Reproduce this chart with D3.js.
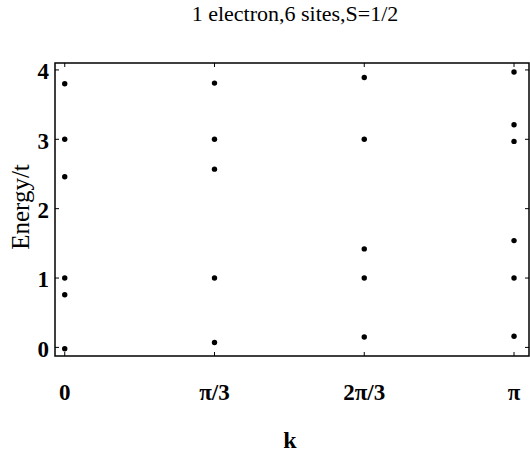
<!DOCTYPE html>
<html>
<head>
<meta charset="utf-8">
<script src="https://cdn.jsdelivr.net/npm/d3@7"></script>
<style>
  body { margin: 0; background: #fff; }
  svg { display: block; }
</style>
</head>
<body>
<div id="chart"></div>
<script>
const width = 530;
const height = 455;

// momentum points and their energy levels (in units of t)
const kValues = [0, 1, 2, 3];
const kLabels = ["0", "\u03c0/3", "2\u03c0/3", "\u03c0"];
const levelsK0 = [3.8, 3.0, 2.46, 1.0, 0.76, -0.02];
const levelsK1 = [3.81, 3.0, 2.57, 1.0, 0.07];
const levelsK2 = [3.89, 3.0, 1.42, 1.0, 0.15];
const levelsK3 = [3.97, 3.21, 2.97, 1.54, 1.0, 0.16];
const yTicks = [0, 1, 2, 3, 4];

const allLevels = [levelsK0, levelsK1, levelsK2, levelsK3];
const points = [];
allLevels.forEach((lv, i) => lv.forEach(e => points.push({ k: kValues[i], e: e })));

const margin = { top: 63, right: 1, bottom: 99, left: 55 };

const svg = d3.select("#chart")
  .append("svg")
  .attr("width", width)
  .attr("height", height);

const x = d3.scaleLinear()
  .domain([-0.065, 3.1])
  .range([margin.left, width - margin.right]);

const y = d3.scaleLinear()
  .domain([-0.124, 4.1])
  .range([height - margin.bottom, margin.top]);

const serif = "'Liberation Serif', 'Times New Roman', serif";

// frame
svg.append("rect")
  .attr("x", x.range()[0])
  .attr("y", y.range()[1])
  .attr("width", x.range()[1] - x.range()[0])
  .attr("height", y.range()[0] - y.range()[1])
  .attr("fill", "none")
  .attr("stroke", "#000")
  .attr("stroke-width", 1.5);

// inward ticks on all four sides
const tk = 4;
svg.append("g").selectAll("line")
  .data(kValues)
  .join("line")
  .attr("x1", d => x(d)).attr("x2", d => x(d))
  .attr("y1", y.range()[0]).attr("y2", y.range()[0] - tk)
  .attr("stroke", "#000");
svg.append("g").selectAll("line")
  .data(kValues)
  .join("line")
  .attr("x1", d => x(d)).attr("x2", d => x(d))
  .attr("y1", y.range()[1]).attr("y2", y.range()[1] + tk)
  .attr("stroke", "#000");
svg.append("g").selectAll("line")
  .data(yTicks)
  .join("line")
  .attr("x1", x.range()[0]).attr("x2", x.range()[0] + tk)
  .attr("y1", d => y(d)).attr("y2", d => y(d))
  .attr("stroke", "#000");
svg.append("g").selectAll("line")
  .data(yTicks)
  .join("line")
  .attr("x1", x.range()[1]).attr("x2", x.range()[1] - tk)
  .attr("y1", d => y(d)).attr("y2", d => y(d))
  .attr("stroke", "#000");

// tick labels
svg.append("g").selectAll("text")
  .data(yTicks)
  .join("text")
  .attr("x", 49)
  .attr("y", d => y(d))
  .attr("dy", "0.4em")
  .attr("text-anchor", "end")
  .style("font-family", serif)
  .style("font-weight", "bold")
  .style("font-size", "23px")
  .text(d => d);

svg.append("g").selectAll("text")
  .data(kValues)
  .join("text")
  .attr("x", d => x(d))
  .attr("y", 392)
  .attr("dy", "0.35em")
  .attr("text-anchor", "middle")
  .style("font-family", serif)
  .style("font-weight", "bold")
  .style("font-size", "23px")
  .text((d, i) => kLabels[i]);

// points
svg.append("g").selectAll("circle")
  .data(points)
  .join("circle")
  .attr("cx", d => x(d.k))
  .attr("cy", d => y(d.e))
  .attr("r", 2.7)
  .attr("fill", "#000");

// titles
svg.append("text")
  .attr("x", 295)
  .attr("y", 21)
  .attr("text-anchor", "middle")
  .style("font-family", serif)
  .style("font-size", "22px")
  .text("1 electron,6 sites,S=1/2");

svg.append("text")
  .attr("x", 290)
  .attr("y", 448)
  .attr("text-anchor", "middle")
  .style("font-family", serif)
  .style("font-weight", "bold")
  .style("font-size", "24px")
  .text("k");

svg.append("text")
  .attr("transform", "translate(29,207) rotate(-90)")
  .attr("text-anchor", "middle")
  .style("font-family", serif)
  .style("font-size", "25px")
  .text("Energy/t");
</script>
</body>
</html>
